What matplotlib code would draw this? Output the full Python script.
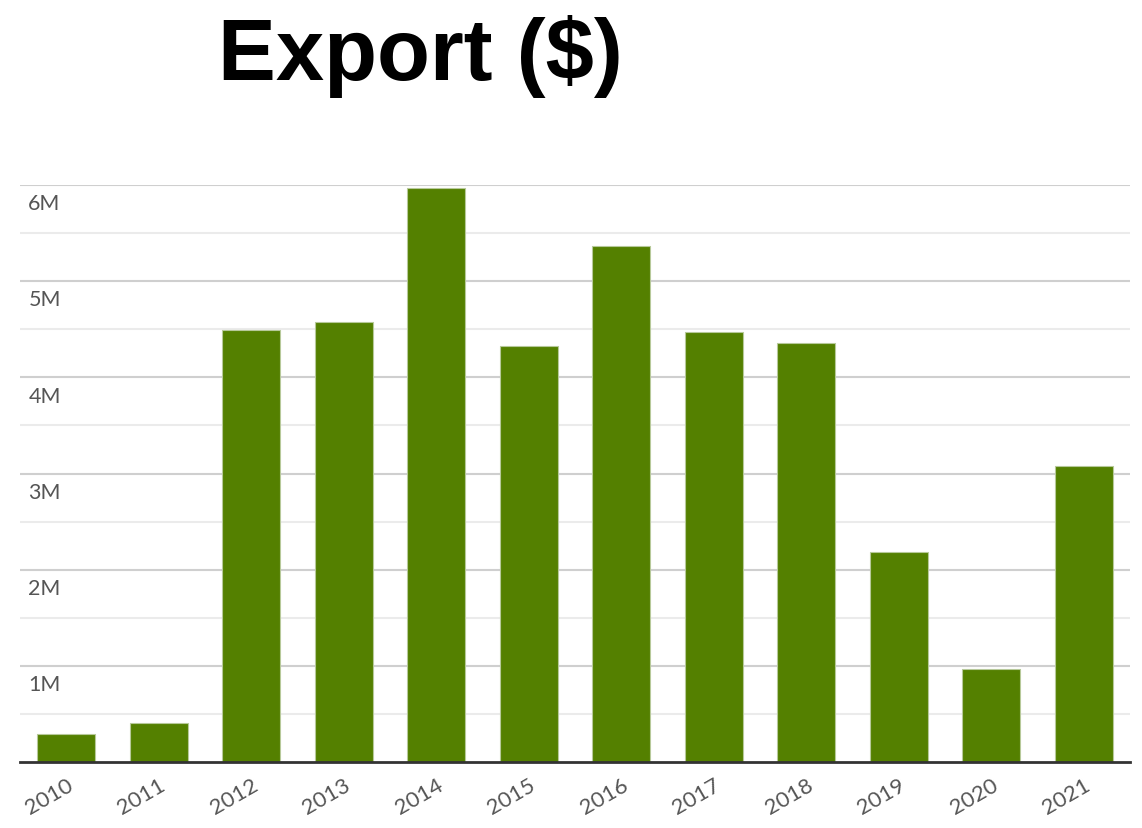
import matplotlib
matplotlib.use("Agg")
import matplotlib.pyplot as plt
import matplotlib.transforms as mtransforms
import numpy as np

years = ["2010", "2011", "2012", "2013", "2014", "2015", "2016", "2017", "2018", "2019", "2020", "2021"]
exports = [0.29e6, 0.405e6, 4.49e6, 4.58e6, 5.97e6, 4.33e6, 5.37e6, 4.47e6, 4.36e6, 2.18e6, 0.97e6, 3.08e6]
ytick_values = [1e6, 2e6, 3e6, 4e6, 5e6, 6e6]
ytick_labels = ["1M", "2M", "3M", "4M", "5M", "6M"]
title = "Export ($)"

W, H = 1142, 829
fig = plt.figure(figsize=(W / 100, H / 100), dpi=100)
ax = fig.add_axes([20 / W, (H - 763) / H, 1110 / W, (763 - 186) / H])

x = np.arange(len(years))
ax.bar(x, exports, width=0.63, color="#548000", edgecolor="#b7c99a", linewidth=0.8, zorder=3)

ax.set_xlim(-0.5, len(years) - 0.5)
ax.set_ylim(0, 6e6)

# gridlines
ax.set_yticks(ytick_values)
ax.set_yticks(np.arange(0.5e6, 6e6, 1e6), minor=True)
ax.yaxis.grid(True, which="major", color="#cfcfcf", linewidth=1.5, zorder=0)
ax.yaxis.grid(True, which="minor", color="#ebebeb", linewidth=1.5, zorder=0)
ax.tick_params(axis="y", which="both", length=0, labelleft=False)

for s in ["left", "right", "top"]:
    ax.spines[s].set_visible(False)
ax.spines["bottom"].set_color("#333333")
ax.spines["bottom"].set_linewidth(2)
ax.spines["bottom"].set_zorder(4)

# y labels inside, just below gridlines
off = mtransforms.offset_copy(ax.get_yaxis_transform(), fig=fig, x=6, y=-6, units="points")
for v, lab in zip(ytick_values, ytick_labels):
    ax.text(0, v, lab, transform=off, ha="left", va="top", fontsize=15.5,
            color="#555555", family="Lato")

ax.set_xticks(x)
ax.set_xticklabels(years, rotation=30, ha="right", va="top", rotation_mode="anchor",
                   fontsize=16, color="#555555", family="Lato")
ax.tick_params(axis="x", length=0, pad=9)

fig.text(420 / W, 1 - 56 / H, title, ha="center", va="center", fontsize=62.5,
         fontweight="bold", family="Liberation Sans", color="black")

fig.savefig("out.png", dpi=100, facecolor="white")
